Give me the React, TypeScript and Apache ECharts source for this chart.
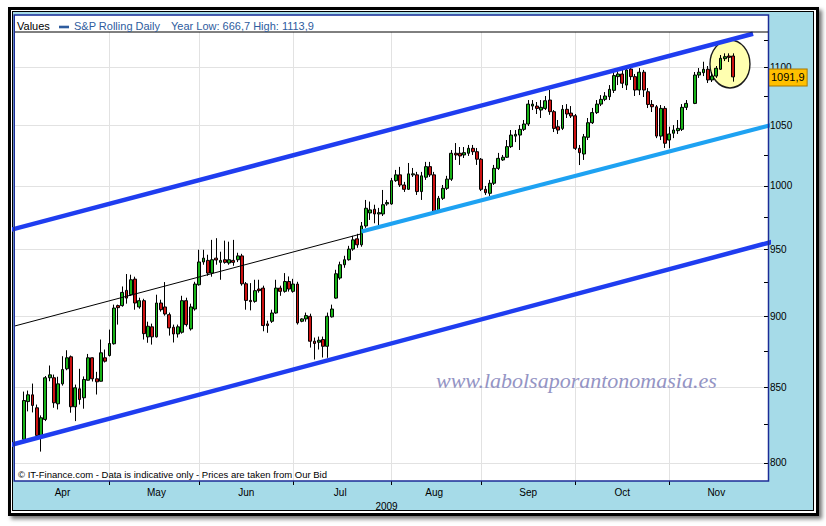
import React, { useEffect, useRef } from 'react';
import * as echarts from 'echarts';

const FONT = '"Liberation Sans", Arial, sans-serif';

// sessions of the 2009 feed, month by month (Nov 8 is an empty slot)
const monthNames = ['Apr', 'May', 'Jun', 'Jul', 'Aug', 'Sep', 'Oct', 'Nov'];
const monthNumbers = [4, 5, 6, 7, 8, 9, 10, 11];
const sessionDays = [
  [2, 3, 6, 7, 8, 9, 13, 14, 15, 16, 17, 20, 21, 22, 23, 24, 27, 28, 29, 30],
  [1, 4, 5, 6, 7, 8, 11, 12, 13, 14, 15, 18, 19, 20, 21, 22, 25, 26, 27, 28, 29],
  [1, 2, 3, 4, 5, 8, 9, 10, 11, 12, 15, 16, 17, 18, 19, 22, 23, 24, 25, 26, 29, 30],
  [1, 2, 3, 6, 7, 8, 9, 10, 13, 14, 15, 16, 17, 20, 21, 22, 23, 24, 27, 28, 29, 30, 31],
  [3, 4, 5, 6, 7, 10, 11, 12, 13, 14, 17, 18, 19, 20, 21, 24, 25, 26, 27, 28, 31],
  [1, 2, 3, 4, 7, 8, 9, 10, 11, 14, 15, 16, 17, 18, 21, 22, 23, 24, 25, 28, 29, 30],
  [1, 2, 5, 6, 7, 8, 9, 12, 13, 14, 15, 16, 19, 20, 21, 22, 23, 26, 27, 28, 29, 30],
  [2, 3, 4, 5, 6, 8, 9, 10, 11, 12, 13, 16, 17, 18, 19, 20],
];

const opens = [
  815.3, 840.5, 845.1, 836.3, 817.9, 828.5, 856.8, 856.8, 839.0, 852.6,
  863.0, 871.4, 837.0, 849.2, 843.1, 855.1, 870.7, 856.1, 854.4, 870.7,
  872.3, 880.6, 908.1, 908.1, 919.3, 916.1, 927.7, 907.1, 911.7, 885.5,
  892.7, 885.5, 910.0, 907.1, 901.5, 892.4, 887.6, 888.8, 911.7, 891.2,
  905.6, 923.5, 940.6, 941.8, 932.2, 943.5, 940.3, 942.3, 939.8, 941.8,
  942.3, 945.2, 924.2, 911.9, 911.2, 920.3, 921.0, 894.8, 896.7, 902.7,
  921.0, 918.6, 925.9, 918.6, 924.0, 896.7, 898.4, 900.3, 882.4, 881.7,
  883.6, 878.8, 899.9, 913.6, 928.5, 938.5, 942.3, 950.4, 958.3, 953.7,
  968.3, 978.5, 981.4, 977.7, 977.7, 985.6, 985.6, 1004.3, 1009.0, 1000.8,
  997.3, 1009.0, 1009.0, 995.5, 1007.1, 1015.7, 1009.0, 979.5, 990.1, 998.1,
  1005.5, 1026.7, 1026.7, 1025.3, 1026.7, 1030.8, 1028.0, 1021.8, 997.3, 994.1,
  1002.2, 1014.3, 1021.2, 1023.4, 1032.2, 1041.0, 1041.9, 1046.7, 1051.2, 1066.5,
  1066.5, 1063.1, 1064.5, 1071.7, 1061.7, 1048.9, 1047.5, 1063.7, 1060.5, 1058.2,
  1030.8, 1026.1, 1040.0, 1052.3, 1060.9, 1068.2, 1072.3, 1074.6, 1080.1, 1092.1,
  1094.4, 1084.7, 1098.8, 1092.1, 1080.4, 1096.0, 1078.9, 1067.9, 1065.9, 1041.0,
  1064.5, 1037.7, 1043.4, 1045.6, 1046.7, 1065.4, null, 1068.8, 1093.5, 1095.6,
  1098.6, 1089.2, 1092.6, 1098.6, 1108.0, 1110.4, 1110.4,
];
const closes = [
  841.2, 845.1, 837.9, 817.9, 829.6, 856.8, 858.8, 839.7, 852.6, 862.5,
  870.7, 837.0, 849.9, 841.9, 855.6, 870.7, 856.1, 854.0, 874.2, 868.3,
  880.8, 906.3, 906.6, 917.8, 913.6, 927.2, 910.0, 911.7, 887.8, 893.1,
  885.5, 910.0, 905.1, 902.0, 891.9, 887.6, 892.7, 911.7, 894.3, 907.1,
  924.0, 940.6, 943.5, 932.2, 942.3, 942.1, 941.8, 940.3, 942.3, 940.3,
  945.2, 924.2, 911.9, 911.0, 919.1, 919.1, 893.6, 893.6, 902.7, 921.0,
  918.6, 925.9, 920.3, 924.0, 895.5, 898.4, 900.8, 882.4, 880.8, 883.1,
  878.8, 900.3, 905.6, 931.7, 938.5, 942.3, 950.4, 957.5, 953.7, 968.3,
  982.2, 980.9, 977.7, 978.7, 985.0, 986.7, 1004.3, 1009.0, 1000.8, 997.3,
  1009.8, 1009.8, 995.5, 1008.2, 1015.7, 1009.0, 979.5, 990.1, 998.1, 1005.5,
  1026.7, 1025.3, 1024.5, 1027.2, 1030.8, 1028.0, 1021.8, 997.3, 994.6, 1002.2,
  1014.3, 1022.5, 1023.4, 1032.2, 1041.9, 1042.5, 1046.7, 1051.2, 1068.2, 1068.2,
  1064.5, 1065.4, 1071.1, 1061.7, 1047.5, 1046.1, 1063.7, 1059.7, 1058.0, 1030.8,
  1027.2, 1040.4, 1052.3, 1060.9, 1068.2, 1072.3, 1075.2, 1081.0, 1093.0, 1094.4,
  1086.3, 1098.0, 1092.1, 1080.4, 1096.0, 1080.4, 1067.9, 1065.9, 1041.0, 1064.5,
  1035.0, 1042.8, 1046.1, 1047.5, 1065.4, 1068.8, null, 1093.5, 1096.0, 1098.6,
  1089.2, 1092.6, 1099.5, 1108.4, 1109.8, 1109.2, 1091.9,
];
const lows = [
  814.7, 833.9, 833.2, 817.3, 807.3, 827.4, 854.4, 836.3, 835.2, 851.4,
  862.0, 833.0, 827.4, 838.5, 835.7, 854.9, 854.2, 845.3, 854.2, 867.4,
  871.6, 880.0, 894.3, 907.3, 909.5, 915.3, 905.1, 905.8, 883.6, 881.3,
  880.0, 885.0, 903.7, 900.8, 886.4, 881.5, 885.0, 887.8, 892.9, 890.0,
  904.4, 922.8, 938.5, 930.2, 929.5, 938.5, 927.2, 939.3, 938.5, 937.7,
  940.5, 922.8, 905.1, 904.6, 910.2, 917.6, 889.5, 888.4, 895.5, 902.2,
  915.3, 917.6, 918.4, 917.6, 894.3, 896.0, 896.4, 877.9, 869.5, 876.5,
  870.9, 870.7, 899.4, 913.1, 927.2, 936.2, 941.6, 949.1, 951.4, 952.2,
  966.8, 973.0, 970.4, 969.0, 976.1, 984.2, 985.0, 1003.3, 999.2, 995.2,
  996.8, 1007.3, 992.8, 988.8, 1004.9, 1007.3, 978.5, 978.5, 988.8, 996.8,
  1004.1, 1021.2, 1017.1, 1022.8, 1024.5, 1025.3, 1017.1, 995.9, 992.8, 992.0,
  1000.8, 1013.0, 1020.4, 1022.8, 1031.1, 1036.0, 1029.4, 1045.3, 1049.5, 1063.1,
  1059.7, 1056.3, 1063.1, 1059.0, 1044.4, 1042.8, 1046.1, 1056.3, 1056.3, 1029.4,
  1017.0, 1021.2, 1037.7, 1051.2, 1059.7, 1066.5, 1070.8, 1071.7, 1077.8, 1084.7,
  1082.1, 1080.4, 1089.2, 1075.2, 1076.0, 1074.3, 1064.8, 1061.4, 1039.3, 1037.7,
  1031.1, 1030.8, 1039.3, 1042.8, 1045.3, 1063.1, null, 1068.2, 1091.0, 1092.6,
  1086.5, 1087.4, 1091.0, 1098.0, 1105.9, 1105.1, 1087.7,
];
const highs = [
  847.3, 848.0, 852.8, 838.5, 831.2, 858.0, 865.3, 859.0, 857.5, 871.8,
  876.0, 872.3, 852.1, 863.0, 857.7, 873.4, 871.0, 860.9, 883.6, 876.5,
  890.7, 908.8, 908.8, 922.2, 931.5, 931.0, 929.5, 913.9, 913.1, 896.4,
  895.0, 916.1, 912.4, 925.5, 903.0, 894.3, 894.3, 915.3, 913.9, 909.5,
  925.7, 949.9, 949.9, 946.1, 957.5, 958.8, 948.4, 956.9, 956.1, 957.5,
  947.6, 946.8, 925.5, 924.7, 927.2, 927.2, 922.8, 897.1, 905.1, 927.2,
  922.8, 932.2, 929.7, 927.9, 925.7, 898.9, 903.0, 902.2, 885.0, 885.7,
  885.7, 903.0, 908.8, 934.7, 940.8, 945.3, 952.9, 960.6, 962.2, 971.4,
  988.8, 987.5, 985.0, 982.5, 996.8, 988.8, 1006.5, 1013.0, 1015.5, 1003.3,
  1018.7, 1014.6, 1011.4, 1011.4, 1019.6, 1019.6, 1011.4, 992.0, 1000.8, 1008.2,
  1029.4, 1035.2, 1031.9, 1031.9, 1033.6, 1033.6, 1031.1, 1022.8, 1000.0, 1004.9,
  1017.1, 1027.0, 1025.3, 1037.7, 1046.1, 1046.1, 1050.3, 1054.6, 1071.7, 1071.7,
  1070.0, 1071.7, 1075.2, 1080.4, 1063.1, 1054.6, 1067.4, 1068.2, 1066.5, 1059.7,
  1033.6, 1042.8, 1056.3, 1064.9, 1071.7, 1076.0, 1078.6, 1084.7, 1096.2, 1099.7,
  1098.0, 1100.6, 1100.6, 1094.4, 1099.7, 1098.0, 1082.1, 1071.7, 1067.4, 1067.4,
  1066.5, 1048.9, 1050.3, 1054.6, 1068.2, 1071.7, null, 1096.2, 1099.7, 1105.3,
  1101.5, 1096.2, 1101.5, 1111.3, 1112.8, 1112.8, 1112.8,
];

// axis ranges and ticks (log price scale)
const slotRange = [-2.1, 174.1];
const priceRange = [788.4, 1132.1];
const priceTicks = [800, 825, 850, 875, 900, 925, 950, 975, 1000, 1025, 1050, 1075, 1100, 1125];
const priceLabels = [800, 850, 900, 950, 1000, 1050, 1100];

// hand-drawn channel lines: [slot, price] end points
const upperChannel = [[-6, 962.7], [170.6, 1130.5]];
const lowerChannel = [[-6, 809.5], [178, 958.6]];
const midChannel = [[-3, 892.6], [79, 962.2]];
const supportLine = [[79, 964.0], [178, 1053.3]];
const highlightCenter = [165.2, 1103.3];

const legendTitle = 'S&P Rolling Daily';
const legendStats = 'Year Low: 666,7 High: 1113,9';
const footerNote = '\u00a9 IT-Finance.com - Data is indicative only - Prices are taken from Our Bid';
const watermark = 'www.labolsaporantonomasia.es';

const dates: string[] = [];
const slotMonth: number[] = [];
sessionDays.forEach((days, m) => {
  days.forEach((d) => {
    dates.push(`2009-${String(monthNumbers[m]).padStart(2, '0')}-${String(d).padStart(2, '0')}`);
    slotMonth.push(m);
  });
});
const monthStartSlots: number[] = [];
const monthLabelSlots: number[] = [];
sessionDays.forEach((days, m) => {
  const first = slotMonth.indexOf(m);
  if (m > 0) monthStartSlots.push(first);
  monthLabelSlots.push(first + days.findIndex((d) => d >= 16));
});

const ln = Math.log;

const App: React.FC = () => {
  const chartRef = useRef<HTMLDivElement>(null);

  useEffect(() => {
    if (!chartRef.current) return;
    const chart = echarts.init(chartRef.current, null, { renderer: 'svg' });

    const candleData: number[][] = [];
    dates.forEach((_, i) => {
      if (opens[i] == null) return;
      candleData.push([i, ln(opens[i] as number), ln(closes[i] as number), ln(lows[i] as number), ln(highs[i] as number)]);
    });
    const lastClose = closes[closes.length - 1] as number;

    const trend = (pts: number[][], color: string, width: number) => ({
      type: 'line',
      data: pts.map(([s, p]) => [s, ln(p)]),
      symbol: 'none',
      clip: true,
      silent: true,
      z: 4,
      lineStyle: { color, width },
    });

    const option: any = {
      animation: false,
      textStyle: { fontFamily: FONT },
      grid: {
        left: 15,
        right: 58,
        top: 32,
        bottom: 45,
        show: true,
        backgroundColor: '#fff',
        borderWidth: 0,
        outerBoundsMode: 'none',
      },
      xAxis: {
        type: 'value',
        min: slotRange[0],
        max: slotRange[1],
        name: '2009',
        nameLocation: 'middle',
        nameGap: 20,
        nameTextStyle: { color: '#000', fontSize: 10, fontFamily: FONT, padding: [0, 10, 0, 0] },
        axisLine: { show: false, onZero: false },
        axisTick: { show: true, inside: false, length: 4, lineStyle: { color: '#000' }, customValues: monthStartSlots },
        axisLabel: {
          customValues: monthLabelSlots,
          formatter: (v: number) => monthNames[slotMonth[Math.round(v)]],
          margin: 6,
          fontSize: 10,
          color: '#000',
          fontFamily: FONT,
        },
        splitLine: { show: true, lineStyle: { color: '#e2e2e2', width: 1 } },
      },
      yAxis: [
        {
          type: 'value',
          position: 'right',
          min: ln(priceRange[0]),
          max: ln(priceRange[1]),
          axisLine: { show: false, onZero: false },
          axisTick: { show: true, inside: true, length: 4, lineStyle: { color: '#000' }, customValues: priceTicks.map(ln) },
          axisLabel: {
            customValues: priceLabels.map(ln),
            formatter: (v: number) => String(Math.round(Math.exp(v))),
            margin: 2,
            fontSize: 10,
            color: '#000',
            fontFamily: FONT,
          },
          splitLine: { show: false },
        },
        {
          type: 'value',
          position: 'right',
          min: ln(priceRange[0]),
          max: ln(priceRange[1]),
          axisLine: { show: false, onZero: false },
          axisTick: { show: false, customValues: priceLabels.map(ln) },
          axisLabel: { show: false },
          splitLine: { show: true, lineStyle: { color: '#e2e2e2', width: 1 } },
        },
      ],
      series: [
        {
          type: 'scatter',
          data: [[highlightCenter[0], ln(highlightCenter[1])]],
          symbol: 'path://M0,24 A20,24 0 1 1 40,24 A20,24 0 1 1 0,24 Z',
          symbolSize: [40, 48],
          silent: true,
          z: 1,
          itemStyle: { color: '#ffffb0', borderColor: '#1a1a1a', borderWidth: 1.5, opacity: 1 },
        },
        {
          type: 'candlestick',
          name: legendTitle,
          data: candleData,
          barWidth: 3.3,
          z: 2,
          itemStyle: {
            color: '#17b217',
            color0: '#cc1111',
            borderColor: '#000',
            borderColor0: '#000',
            borderWidth: 1,
          },
          markLine: {
            silent: true,
            symbol: ['none', 'none'],
            lineStyle: { color: 'rgba(0,0,0,0)', width: 1, type: 'solid' },
            label: {
              show: true,
              position: 'end',
              distance: 1,
              offset: [0, 6],
              formatter: lastClose.toFixed(1).replace('.', ','),
              backgroundColor: '#ffc000',
              borderColor: '#a87800',
              borderWidth: 1,
              padding: [3, 2, 2, 2],
              color: '#000',
              fontSize: 11,
              fontFamily: FONT,
            },
            data: [{ yAxis: ln(lastClose) }],
          },
        },
        trend(midChannel, '#000', 1),
        trend(upperChannel, '#1f3df0', 4.5),
        trend(lowerChannel, '#1f3df0', 4.5),
        trend(supportLine, '#1ea2f2', 4),
      ],
      graphic: [
        { type: 'rect', silent: true, shape: { x: 15, y: 15.5, width: 753, height: 16.5 }, style: { fill: '#fff' } },
        {
          type: 'rect',
          silent: true,
          z: 100,
          shape: { x: 14.25, y: 15, width: 754.25, height: 466 },
          style: { fill: 'none', stroke: '#1c2c96', lineWidth: 1.5 },
        },
        { type: 'line', silent: true, z: 100, shape: { x1: 15, y1: 32, x2: 768, y2: 32 }, style: { stroke: '#000', lineWidth: 1 } },
        { type: 'text', z: 100, x: 17, y: 26, style: { text: 'Values', fill: '#000', fontSize: 11, fontFamily: FONT, verticalAlign: 'middle' } },
        { type: 'rect', z: 100, shape: { x: 59, y: 25.7, width: 10, height: 2.6 }, style: { fill: '#2e5c9e' } },
        { type: 'text', z: 100, x: 74, y: 26, style: { text: legendTitle, fill: '#2e5c9e', fontSize: 11, fontFamily: FONT, verticalAlign: 'middle' } },
        { type: 'text', z: 100, x: 171, y: 26, style: { text: legendStats, fill: '#2e5c9e', fontSize: 11, fontFamily: FONT, verticalAlign: 'middle' } },
        { type: 'text', z: 100, x: 18, y: 474.5, style: { text: footerNote, fill: '#000', fontSize: 9.5, fontFamily: FONT, verticalAlign: 'middle' } },
        {
          type: 'text',
          z: 100,
          x: 436,
          y: 380.5,
          style: {
            text: watermark,
            fill: '#9494c4',
            fontSize: 22,
            fontStyle: 'italic',
            fontFamily: '"Liberation Serif", "Times New Roman", serif',
            verticalAlign: 'middle',
          },
        },
      ],
    };

    chart.setOption(option);
    return () => {
      chart.dispose();
    };
  }, []);

  return (
    <div style={{ position: 'fixed', left: 0, top: 0, width: 826, height: 526, background: '#fff' }}>
      <div
        style={{
          position: 'absolute',
          left: 8,
          top: 7,
          width: 811,
          height: 509,
          border: '3px solid #000',
          boxSizing: 'border-box',
          boxShadow: '3px 3px 4px rgba(0,0,0,0.55)',
        }}
      />
      <div
        style={{
          position: 'absolute',
          left: 12,
          top: 11,
          width: 802,
          height: 500,
          border: '1px solid #000',
          boxSizing: 'border-box',
          background: '#a6dbe8',
        }}
      />
      <div ref={chartRef} style={{ position: 'absolute', left: 0, top: 0, width: 826, height: 526 }} />
    </div>
  );
};

export default App;
